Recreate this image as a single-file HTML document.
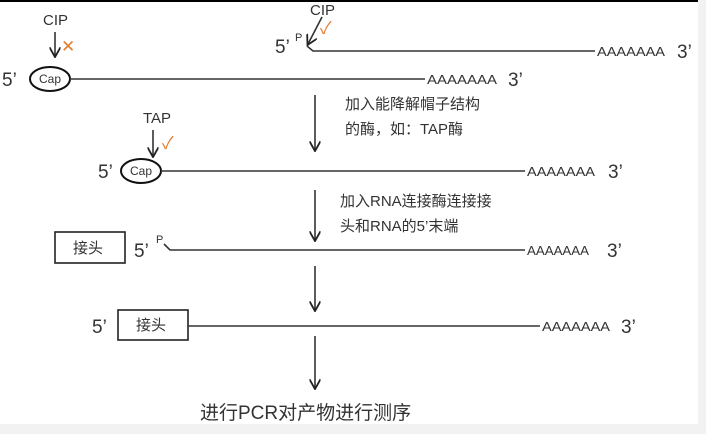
<!DOCTYPE html>
<html><head><meta charset="utf-8"><style>
html,body{margin:0;padding:0;background:#fff}
svg{display:block}
text{font-family:"Liberation Sans","Noto Sans CJK SC",sans-serif;fill:#333}
</style></head><body>
<svg width="706" height="434" viewBox="0 0 706 434" xmlns="http://www.w3.org/2000/svg">
<defs><marker id="ah" viewBox="0 0 10 10" refX="8" refY="5" markerWidth="7" markerHeight="7" orient="auto"><path d="M0,0 L9,5 L0,10" fill="none" stroke="#222" stroke-width="1.6"/></marker></defs>
<rect x="0" y="0" width="706" height="434" fill="#fff"/>
<rect x="698" y="0" width="8" height="434" fill="#f2f2f2"/>
<rect x="0" y="424" width="706" height="10" fill="#f2f2f2"/>
<line x1="0" y1="1" x2="698" y2="1" stroke="#000" stroke-width="2"/>
<g stroke="#333" stroke-width="1.6" fill="none">
<ellipse cx="50" cy="79" rx="20" ry="12" stroke="#111" stroke-width="2"/>
<line x1="70" y1="79" x2="425" y2="79"/>
<line x1="55" y1="32" x2="55" y2="56" marker-end="url(#ah)"/>
<path d="M307,46 L313,51 L595,51"/>
<line x1="322" y1="17" x2="308" y2="44" marker-end="url(#ah)"/>
<line x1="315" y1="95" x2="315" y2="150" marker-end="url(#ah)"/>
<line x1="153" y1="130" x2="153" y2="156" marker-end="url(#ah)"/>
<ellipse cx="141" cy="171" rx="20" ry="12" stroke="#111" stroke-width="2"/>
<line x1="161" y1="171" x2="525" y2="171"/>
<line x1="315" y1="190" x2="315" y2="240" marker-end="url(#ah)"/>
<rect x="55" y="232" width="70" height="31" stroke="#222"/>
<path d="M164,244 L170,250 L525,250"/>
<line x1="315" y1="266" x2="315" y2="310" marker-end="url(#ah)"/>
<rect x="118" y="310" width="70" height="30" stroke="#222"/>
<line x1="188" y1="326" x2="540" y2="326"/>
<line x1="315" y1="336" x2="315" y2="388" marker-end="url(#ah)"/>
</g>
<g font-size="15">
<text x="43" y="25">CIP</text>
<text x="310" y="15">CIP</text>
<text x="143" y="123">TAP</text>
</g>
<g font-size="17">
<text x="61" y="52" style="fill:#e87b2c">✕</text>
<text x="320" y="34" style="fill:#e87b2c">✓</text>
<text x="162" y="149" style="fill:#e87b2c">✓</text>
</g>
<g font-size="19">
<text x="2" y="86">5’</text>
<text x="275" y="53">5’</text>
<text x="98" y="178">5’</text>
<text x="134" y="257">5’</text>
<text x="92" y="333">5’</text>
<text x="508" y="86">3’</text>
<text x="677" y="58">3’</text>
<text x="608" y="178">3’</text>
<text x="607" y="257">3’</text>
<text x="621" y="333">3’</text>
</g>
<g font-size="12" text-anchor="middle">
<text x="50" y="83">Cap</text>
<text x="141" y="175">Cap</text>
</g>
<g font-size="11">
<text x="295" y="41">P</text>
<text x="156" y="243">P</text>
</g>
<g font-size="13">
<text x="427" y="84" textLength="70" lengthAdjust="spacingAndGlyphs">AAAAAAA</text>
<text x="597" y="56" textLength="68" lengthAdjust="spacingAndGlyphs">AAAAAAA</text>
<text x="527" y="176" textLength="68" lengthAdjust="spacingAndGlyphs">AAAAAAA</text>
<text x="527" y="255" textLength="62" lengthAdjust="spacingAndGlyphs">AAAAAAA</text>
<text x="542" y="331" textLength="68" lengthAdjust="spacingAndGlyphs">AAAAAAA</text>
</g>
<g font-size="15">
<text x="345" y="109">加入能降解帽子结构</text>
<text x="345" y="134">的酶，如：TAP酶</text>
<text x="340" y="206">加入RNA连接酶连接接</text>
<text x="340" y="231">头和RNA的5’末端</text>
<text x="73" y="253">接头</text>
<text x="136" y="330">接头</text>
<text x="200" y="419" font-size="19">进行PCR对产物进行测序</text>
</g>
</svg>
</body></html>
